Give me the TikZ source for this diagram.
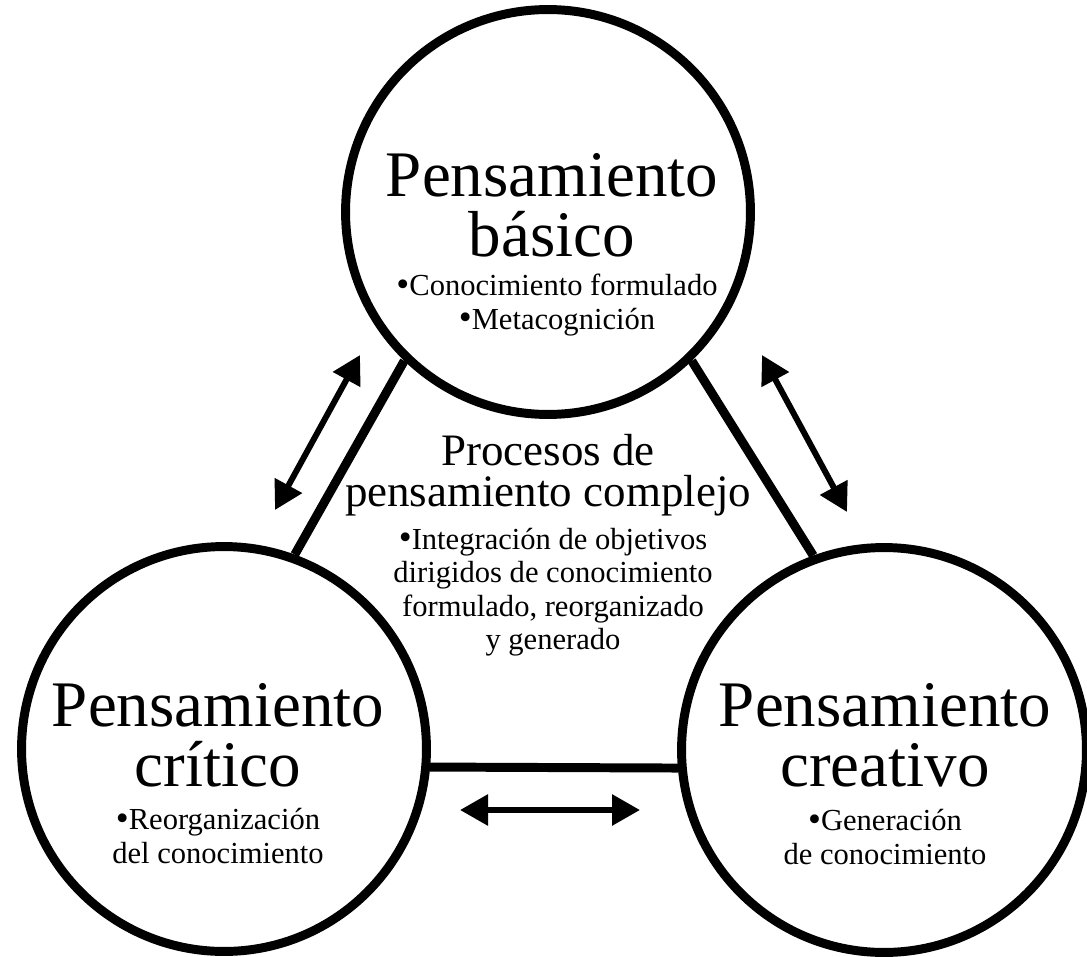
\documentclass[tikz,border=0pt]{standalone}
\usepackage{fontspec}
\setmainfont{Liberation Serif}
\usetikzlibrary{arrows.meta}
\newcommand{\bul}{\smash{\raisebox{-0.02em}{\fontsize{21}{21}\selectfont\textbullet}}}

\begin{document}
\begin{tikzpicture}[x=0.02cm,y=-0.02cm,
    ring/.style={circle,draw,line width=5.1pt,minimum size=8.1cm,inner sep=0pt},
    link/.style={line width=5.1pt},
    dbl/.style={line width=3.4pt,{Triangle[length=0.56cm,width=0.6cm]}-{Triangle[length=0.56cm,width=0.6cm]}},
    big/.style={align=center,font=\fontsize{37}{34}\selectfont},
    mid/.style={align=center,font=\fontsize{25.6}{23.5}\selectfont},
    small/.style={align=center,font=\fontsize{17.4}{19}\selectfont}]
            \useasboundingbox (0,0) rectangle (1087,956);
            % the three circles
            \node [ring] (basico) at (548,212) {};
            \node [ring] (critico) at (224,749) {};
            \node [ring] (creativo) at (884,750) {};
            \draw [link] (basico.226) -- (critico.70);
            \draw [link] (basico.314) -- (creativo.110);
            \draw [link] (critico.-5) -- (creativo.185);
            % double arrows
            \coordinate (la) at (360,355);
            \coordinate (lb) at (275,510);
            \coordinate (ra) at (762,355);
            \coordinate (rb) at (847,512);
            \coordinate (ba) at (460,810);
            \coordinate (bb) at (640,810);
            \draw [dbl] (la) -- (lb);
            \draw [dbl] (ra) -- (rb);
            \draw [dbl] (ba) -- (bb);
            % texts
            \node [big] (tbasico) at (552,205) {Pensamiento\\básico};
            \node [small] (ibasico) at (557,305) {\bul Conocimiento formulado\\\bul Metacognición};
            \node [mid] (tcomplejo) at (548,475) {Procesos de\\pensamiento complejo};
            \node [small] (icomplejo) at (553,592) {\bul Integración de objetivos\\dirigidos de conocimiento\\formulado, reorganizado\\y generado};
            \node [big] (tcritico) at (218,735) {Pensamiento\\crítico};
            \node [small] (icritico) at (218,836) {\bul Reorganización\\del conocimiento};
            \node [big] (tcreativo) at (885,735) {Pensamiento\\creativo};
            \node [small] (icreativo) at (885,837) {\bul Generación\\de conocimiento};
        \end{tikzpicture}
\end{document}
